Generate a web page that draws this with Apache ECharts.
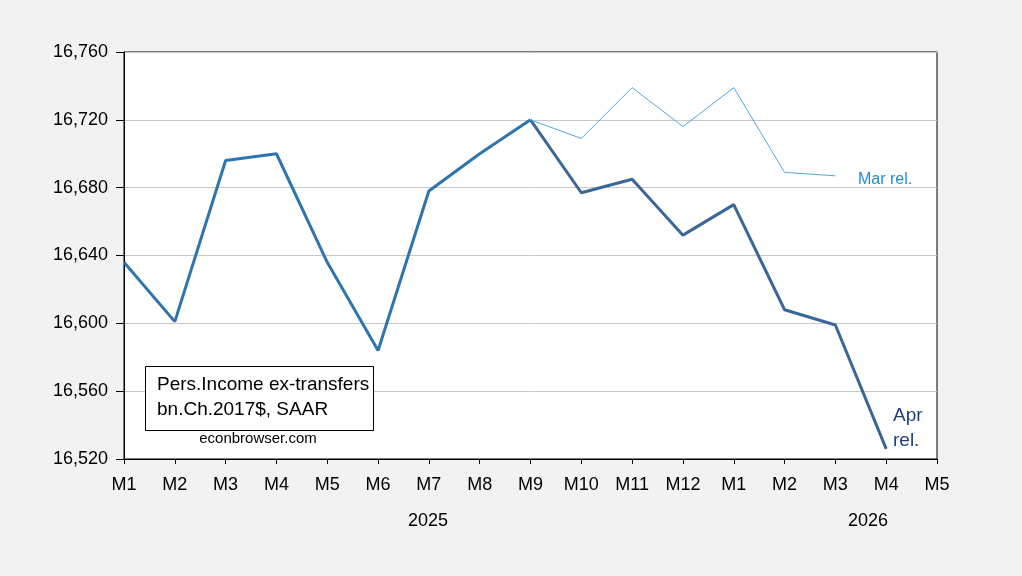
<!DOCTYPE html>
<html>
<head>
    <meta charset="utf-8">
    <title>Pers. Income ex-transfers</title>
    <script src="https://cdn.jsdelivr.net/npm/echarts@6/dist/echarts.min.js"></script>
    <style>
        html, body { margin: 0; padding: 0; background: #f2f2f2; }
        #main { width: 1022px; height: 576px; }
    </style>
</head>
<body>
    <div id="main"></div>
    <script>
        // months, Jan 2025 .. May 2026
        var months = ['M1', 'M2', 'M3', 'M4', 'M5', 'M6', 'M7', 'M8', 'M9', 'M10', 'M11', 'M12',
            'M1', 'M2', 'M3', 'M4', 'M5'];
        var years = ['2025', '2026'];
        var yTicks = [16520, 16560, 16600, 16640, 16680, 16720, 16760];

        // bn. Ch.2017$, SAAR
        var aprRel = [16636, 16601, 16696, 16700, 16636, 16584, 16678, 16700, 16720, 16677, 16685, 16652,
            16670, 16608, 16599, 16526, null];
        var marRel = [null, null, null, null, null, null, null, null, 16720, 16709, 16739, 16716,
            16739, 16689, 16687, null, null];

        // the shared part (up to M9 2025) is drawn a bit brighter, as in the original
        var splitAt = 8;
        var aprShared = aprRel.map(function (v, i) { return i <= splitAt ? v : null; });
        var aprNew = aprRel.map(function (v, i) { return i >= splitAt ? v : null; });

        var chart = echarts.init(document.getElementById('main'));
        var font = 'Liberation Sans, Arial, sans-serif';

        var option = {
            backgroundColor: '#f2f2f2',
            animation: false,
            grid: {
                left: 124, right: 85, top: 52, bottom: 117,
                show: true, backgroundColor: '#ffffff', borderColor: '#000', borderWidth: 1
            },
            xAxis: {
                type: 'category',
                data: months,
                boundaryGap: false,
                axisLine: { show: true, lineStyle: { color: '#000', width: 1 } },
                axisTick: { show: true, length: 5, lineStyle: { color: '#000' } },
                axisLabel: { color: '#000', fontFamily: font, fontSize: 18, margin: 17, interval: 0 },
                splitLine: { show: false }
            },
            yAxis: {
                type: 'value',
                min: yTicks[0],
                max: yTicks[yTicks.length - 1],
                interval: 40,
                axisLine: { show: true, lineStyle: { color: '#000' } },
                axisTick: { show: true, length: 8, lineStyle: { color: '#000' } },
                axisLabel: {
                    color: '#000', fontFamily: font, fontSize: 18, margin: 16,
                    formatter: function (v) { return v.toLocaleString('en-US'); }
                },
                splitLine: { show: true, lineStyle: { color: '#c8c8c8', width: 1 } }
            },
            series: [
                {
                    name: 'Apr rel.',
                    type: 'line',
                    data: aprNew,
                    symbol: 'none',
                    lineStyle: { width: 3, color: '#3a6699' },
                    z: 2
                },
                {
                    name: 'Apr rel. (shared)',
                    type: 'line',
                    data: aprShared,
                    symbol: 'none',
                    lineStyle: { width: 3, color: '#2e74ae' },
                    z: 2
                },
                {
                    name: 'Mar rel.',
                    type: 'line',
                    data: marRel,
                    symbol: 'none',
                    lineStyle: { width: 1, color: '#4fa8dc' },
                    z: 3
                }
            ],
            graphic: [
                {
                    type: 'text', x: 428, y: 521,
                    style: { text: years[0], font: '18px ' + font, fill: '#000', align: 'center', verticalAlign: 'middle' }
                },
                {
                    type: 'text', x: 868, y: 521,
                    style: { text: years[1], font: '18px ' + font, fill: '#000', align: 'center', verticalAlign: 'middle' }
                },
                {
                    type: 'rect', shape: { x: 145.5, y: 366.5, width: 228, height: 64 },
                    style: { fill: '#fff', stroke: '#000', lineWidth: 1 }, z: 10
                },
                {
                    type: 'text', x: 157, y: 385, z: 11,
                    style: { text: 'Pers.Income ex-transfers', font: '19px ' + font, fill: '#000', verticalAlign: 'middle' }
                },
                {
                    type: 'text', x: 157, y: 410, z: 11,
                    style: { text: 'bn.Ch.2017$, SAAR', font: '19px ' + font, fill: '#000', verticalAlign: 'middle' }
                },
                {
                    type: 'text', x: 258, y: 439, z: 11,
                    style: { text: 'econbrowser.com', font: '15px ' + font, fill: '#000', align: 'center', verticalAlign: 'middle' }
                },
                {
                    type: 'text', x: 858, y: 180, z: 11,
                    style: { text: 'Mar rel.', font: '16px ' + font, fill: '#1f8fd3', verticalAlign: 'middle' }
                },
                {
                    type: 'text', x: 893, y: 416, z: 11,
                    style: { text: 'Apr', font: '19px ' + font, fill: '#1f3f7c', verticalAlign: 'middle' }
                },
                {
                    type: 'text', x: 893, y: 441, z: 11,
                    style: { text: 'rel.', font: '19px ' + font, fill: '#1f3f7c', verticalAlign: 'middle' }
                }
            ]
        };
        chart.setOption(option);
    </script>
</body>
</html>
